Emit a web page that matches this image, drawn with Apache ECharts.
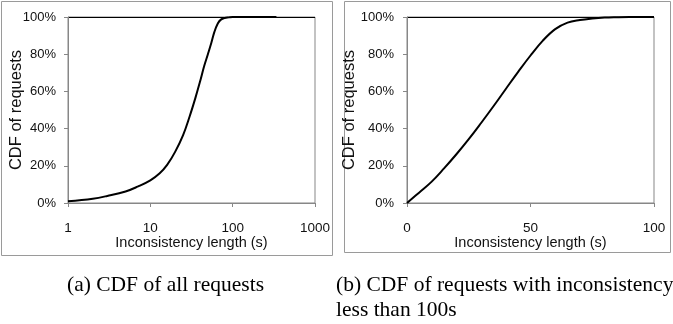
<!DOCTYPE html>
<html><head><meta charset="utf-8">
<script src="https://cdn.jsdelivr.net/npm/echarts@6/dist/echarts.min.js"></script>
<style>html,body{margin:0;padding:0;background:#fff}#c{width:673px;height:324px}</style>
</head><body><div id="c"></div>
<script>
// (a) CDF of all requests — log x axis
const allX = [1, 2, 3, 5, 7, 10, 13, 16, 20, 25, 30, 35, 40, 45, 50, 55, 60, 66, 72, 80, 90, 100, 150, 200, 340];
const allY = [0.9, 2.3, 3.8, 6.2, 8.8, 12.2, 16.0, 20.5, 27.5, 36.5, 46.5, 56, 65, 73.5, 80, 86, 92, 96.5, 98.6, 99.5, 99.8, 100, 100, 100, 100];
// (b) CDF of requests with inconsistency less than 100s — linear x axis
const shortX = [0, 5, 10, 15, 20, 25, 30, 35, 40, 45, 50, 55, 60, 65, 70, 75, 80, 85, 90, 100];
const shortY = [0, 5.7, 11.5, 18.6, 26.2, 34.3, 43, 52, 61.3, 70.5, 79.3, 87.3, 93.5, 97, 98.4, 99.2, 99.7, 99.9, 100, 100];
const logTicks = ['1', '10', '100', '1000'];
const yTicks = ['0%', '20%', '40%', '60%', '80%', '100%'];
const xName = 'Inconsistency length (s)';
const yName = 'CDF of requests';
const captionA = '(a) CDF of all requests';
const captionB1 = '(b) CDF of requests with inconsistency';
const captionB2 = 'less than 100s';

const FONT = "'Liberation Sans', Arial, sans-serif";
const SERIF = "'Liberation Serif', 'DejaVu Serif', serif";
const AX = '#878787';
const chart = echarts.init(document.getElementById('c'), null, {renderer: 'canvas'});

function yAxis(idx, gap, margin) {
  return {
    type: 'value', gridIndex: idx, min: 0, max: 100, interval: 20,
    name: yName, nameLocation: 'middle', nameGap: gap, nameRotate: 90, nameMoveOverlap: false,
    nameTextStyle: {fontFamily: FONT, fontSize: 16.5, color: '#111'},
    axisLine: {show: true, lineStyle: {color: AX, width: 1}},
    axisTick: {show: true, length: 4, lineStyle: {color: AX}},
    axisLabel: {fontFamily: FONT, fontSize: 13, color: '#111', margin: margin,
      formatter: v => yTicks[Math.round(v / 20)]},
    splitLine: {show: true, lineStyle: {width: 1,
      color: ['rgba(0,0,0,0)', 'rgba(0,0,0,0)', 'rgba(0,0,0,0)', 'rgba(0,0,0,0)', 'rgba(0,0,0,0)', '#000']}}
  };
}
function xCommon() {
  return {
    name: xName, nameLocation: 'middle', nameGap: 32, nameMoveOverlap: false,
    nameTextStyle: {fontFamily: FONT, fontSize: 14.5, color: '#111'},
    axisLine: {lineStyle: {color: AX}}, axisTick: {length: 4, lineStyle: {color: AX}},
    splitLine: {show: false}
  };
}
function pairs(xs, ys) { return xs.map((x, i) => [x, ys[i]]); }

chart.setOption({
  animation: false,
  grid: [
    {left: 68, top: 17, width: 247, height: 186, show: true, borderColor: AX, borderWidth: 1},
    {left: 407, top: 17, width: 247, height: 186, show: true, borderColor: AX, borderWidth: 1}
  ],
  xAxis: [
    Object.assign(xCommon(), {type: 'log', logBase: 10, min: 1, max: 1000, gridIndex: 0,
     axisLabel: {fontFamily: FONT, fontSize: 13.5, color: '#111', margin: 18,
       formatter: v => logTicks[Math.round(Math.log10(v))]},
     minorSplitLine: {show: false}}),
    Object.assign(xCommon(), {type: 'value', min: 0, max: 100, interval: 50, gridIndex: 1,
     axisLabel: {fontFamily: FONT, fontSize: 13.5, color: '#111', margin: 18}})
  ],
  yAxis: [yAxis(0, 43, 12), yAxis(1, 49.5, 13)],
  series: [
    {type: 'line', xAxisIndex: 0, yAxisIndex: 0, data: pairs(allX, allY), smooth: 0.4,
     showSymbol: false, lineStyle: {color: '#000', width: 2}},
    {type: 'line', xAxisIndex: 1, yAxisIndex: 1, data: pairs(shortX, shortY), smooth: 0.4,
     showSymbol: false, lineStyle: {color: '#000', width: 2}}
  ],
  graphic: [
    {type: 'rect', shape: {x: 1.5, y: 1.5, width: 331, height: 254}, style: {fill: 'none', stroke: '#9a9a9a', lineWidth: 1}, z: -1},
    {type: 'rect', shape: {x: 344.5, y: 1.5, width: 326, height: 251}, style: {fill: 'none', stroke: '#9a9a9a', lineWidth: 1}, z: -1},
    {type: 'text', left: 67, top: 274, style: {text: captionA, font: '21.5px ' + SERIF, fill: '#000'}},
    {type: 'text', left: 336, top: 274, style: {text: captionB1, font: '21.5px ' + SERIF, fill: '#000'}},
    {type: 'text', left: 336, top: 299, style: {text: captionB2, font: '21.5px ' + SERIF, fill: '#000'}}
  ]
});
</script></body></html>
